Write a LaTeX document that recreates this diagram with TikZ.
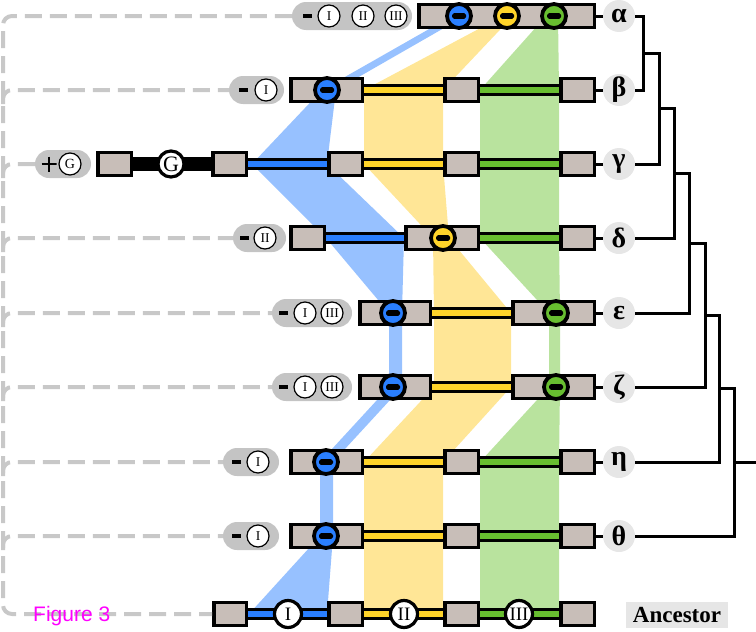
\documentclass[tikz,border=0pt]{standalone}
\usepackage{fontspec}
\setmainfont{Liberation Serif}
\newfontfamily\figfont{Liberation Sans}
\usetikzlibrary{calc}
\definecolor{bluebar}{RGB}{42,127,255}
\definecolor{blueband}{RGB}{151,193,255}
\definecolor{yelbar}{RGB}{255,212,42}
\definecolor{yelband}{RGB}{255,230,150}
\definecolor{grnbar}{RGB}{104,190,48}
\definecolor{grnband}{RGB}{185,227,158}
\definecolor{boxc}{RGB}{200,190,184}
\definecolor{pillc}{RGB}{196,196,196}
\definecolor{dashc}{RGB}{200,200,200}
\definecolor{labc}{RGB}{230,230,230}
\definecolor{figc}{RGB}{255,0,255}
\pgfdeclarelayer{bands}
\pgfdeclarelayer{bars}
\pgfsetlayers{bands,bars,main}
\newcommand{\gbox}[4]{\node[gbox, minimum width={(#3-#2-3.5)*1pt}] (#1) at ({(#2+#3)/2},#4) {};}
\newcommand{\pillat}[4]{\node[pillbox, minimum width={(#3-#2)*1pt}] (#1) at ({(#2+#3)/2},#4) {};}
\newcommand{\cbar}[3]{\begin{pgfonlayer}{bars}\draw[line width=11.5pt] (#1.east) -- (#2.west); \draw[line width=6pt,#3] (#1.east) -- (#2.west);\end{pgfonlayer}}
\begin{document}
\begin{tikzpicture}[x=1pt,y=-1pt,
  gbox/.style={rectangle, draw=black, line width=3.5pt, fill=boxc, minimum height=23pt, inner sep=0pt},
  pillbox/.style={rectangle, fill=pillc, rounded corners=14pt, minimum height=28pt, inner sep=0pt},
  minusbar/.style={rectangle, fill=black, minimum width=9pt, minimum height=3.8pt, inner sep=0pt},
  plussign/.style={rectangle, minimum size=15pt, inner sep=0pt,
    path picture={\draw[line width=2.8pt] (path picture bounding box.north) -- (path picture bounding box.south);
                  \draw[line width=2.8pt] (path picture bounding box.west) -- (path picture bounding box.east);}},
  pnum/.style={circle, draw=black, line width=1.2pt, fill=white, minimum size=22pt, inner sep=0pt, font=\fontsize{13.5}{13.5}\selectfont},
  delc/.style={circle, draw=black, line width=3.8pt, minimum size=24pt, inner sep=0pt,
    path picture={\fill[black, rounded corners=1.8pt] ([xshift=-7pt,yshift=-2.8pt]path picture bounding box.center) rectangle ([xshift=7pt,yshift=2.8pt]path picture bounding box.center);}},
  anccirc/.style={circle, draw=black, line width=3.2pt, fill=white, minimum size=27pt, inner sep=0pt, font=\fontsize{19}{19}\selectfont},
  labnode/.style={circle, fill=labc, minimum size=32pt, inner sep=0pt, font=\fontsize{28}{28}\selectfont\bfseries},
  treeline/.style={draw=black, line width=3pt},
  dashl/.style={draw=dashc, line width=4pt, dash pattern=on 17pt off 8pt}
]
\useasboundingbox (0,0) rectangle (756,632);

% ---------- bands ----------
\begin{pgfonlayer}{bands}
\fill[blueband] (452,16) -- (322,90) -- (252,164) -- (326,238) -- (389,313) -- (389,387) -- (320,462) -- (320,536) -- (249,614) -- (327,614) -- (333,536) -- (333,462) -- (402,387) -- (402,313) -- (404,238) -- (327,164) -- (336,90) -- (465,16) -- cycle;
\fill[yelband] (503,16) -- (364,90) -- (364,164) -- (433,238) -- (434,313) -- (434,387) -- (364,462) -- (364,536) -- (364,614) -- (443,614) -- (443,536) -- (443,462) -- (511,387) -- (511,313) -- (449,238) -- (443,164) -- (443,90) -- (513,16) -- cycle;
\fill[grnband] (546,16) -- (480,90) -- (480,164) -- (480,238) -- (549,313) -- (549,387) -- (480,462) -- (480,536) -- (480,614) -- (559,614) -- (559,536) -- (559,462) -- (560,387) -- (560,313) -- (559,238) -- (559,164) -- (559,90) -- (558,16) -- cycle;
\end{pgfonlayer}

% ---------- alpha ----------
\pillat{ap}{292}{412}{16}
\node[minusbar] (apm) at (307,16) {};
\node[pnum] (apI) at (329,16) {I};
\node[pnum] (apII) at (363,16) {II};
\node[pnum] (apIII) at (396,16) {III};
\gbox{a1}{417}{596}{16}
\node[delc,fill=bluebar] (ad1) at (459,16) {};
\node[delc,fill=yelbar] (ad2) at (507,16) {};
\node[delc,fill=grnbar] (ad3) at (554,16) {};

% ---------- beta ----------
\pillat{bp}{229}{284}{90}
\node[minusbar] (bpm) at (243,90) {};
\node[pnum] (bpI) at (266,90) {I};
\gbox{b1}{289}{364}{90}
\gbox{b2}{443}{480}{90}
\gbox{b3}{559}{596}{90}
\node[delc,fill=bluebar] (bd1) at (327,90) {};
\cbar{b1}{b2}{yelbar}
\cbar{b2}{b3}{grnbar}

% ---------- gamma ----------
\pillat{cp}{35}{91}{164}
\node[plussign] (cpplus) at (49,164) {};
\node[pnum, font=\fontsize{14}{14}\selectfont] (cpG) at (70,164) {G};
\gbox{c0}{96}{133}{164}
\gbox{c1}{211}{248}{164}
\gbox{c2}{327}{364}{164}
\gbox{c3}{443}{480}{164}
\gbox{c4}{559}{596}{164}
\begin{pgfonlayer}{bars}\draw[line width=14pt] (c0.east) -- (c1.west);\end{pgfonlayer}
\node[circle, draw=black, line width=3.2pt, fill=white, minimum size=26pt, inner sep=0pt, font=\fontsize{22}{22}\selectfont] (cG) at (171,164) {G};
\cbar{c1}{c2}{bluebar}
\cbar{c2}{c3}{yelbar}
\cbar{c3}{c4}{grnbar}

% ---------- delta ----------
\pillat{dp}{233}{286}{238}
\node[minusbar] (dpm) at (244,238) {};
\node[pnum] (dpII) at (265,238) {II};
\gbox{d1}{289}{326}{238}
\gbox{d2}{404}{480}{238}
\gbox{d3}{559}{596}{238}
\node[delc,fill=yelbar] (dd2) at (443,238) {};
\cbar{d1}{d2}{bluebar}
\cbar{d2}{d3}{grnbar}

% ---------- epsilon ----------
\pillat{ep}{272}{352}{313}
\node[minusbar] (epm) at (283,313) {};
\node[pnum] (epI) at (305,313) {I};
\node[pnum] (epIII) at (332,313) {III};
\gbox{e1}{358}{432}{313}
\gbox{e2}{511}{596}{313}
\node[delc,fill=bluebar] (ed1) at (393,313) {};
\node[delc,fill=grnbar] (ed3) at (556,313) {};
\cbar{e1}{e2}{yelbar}

% ---------- zeta ----------
\pillat{fp}{272}{352}{387}
\node[minusbar] (fpm) at (283,387) {};
\node[pnum] (fpI) at (305,387) {I};
\node[pnum] (fpIII) at (332,387) {III};
\gbox{f1}{358}{432}{387}
\gbox{f2}{511}{596}{387}
\node[delc,fill=bluebar] (fd1) at (393,387) {};
\node[delc,fill=grnbar] (fd3) at (556,387) {};
\cbar{f1}{f2}{yelbar}

% ---------- eta ----------
\pillat{gp}{223}{279}{462}
\node[minusbar] (gpm) at (236,462) {};
\node[pnum] (gpI) at (258,462) {I};
\gbox{g1}{289}{364}{462}
\gbox{g2}{443}{480}{462}
\gbox{g3}{559}{596}{462}
\node[delc,fill=bluebar] (gd1) at (326,462) {};
\cbar{g1}{g2}{yelbar}
\cbar{g2}{g3}{grnbar}

% ---------- theta ----------
\pillat{hp}{223}{279}{536}
\node[minusbar] (hpm) at (236,536) {};
\node[pnum] (hpI) at (258,536) {I};
\gbox{h1}{289}{364}{536}
\gbox{h2}{443}{480}{536}
\gbox{h3}{559}{596}{536}
\node[delc,fill=bluebar] (hd1) at (326,536) {};
\cbar{h1}{h2}{yelbar}
\cbar{h2}{h3}{grnbar}

% ---------- ancestor ----------
\gbox{k0}{212}{248}{614}
\gbox{k1}{327}{364}{614}
\gbox{k2}{443}{480}{614}
\gbox{k3}{559}{596}{614}
\cbar{k0}{k1}{bluebar}
\cbar{k1}{k2}{yelbar}
\cbar{k2}{k3}{grnbar}
\node[anccirc] (kI) at (288,614) {I};
\node[anccirc] (kII) at (404,614) {II};
\node[anccirc] (kIII) at (519,614) {III};
\node[fill=labc, minimum width=102pt, minimum height=26pt, inner sep=0pt, font=\fontsize{23}{23}\selectfont\bfseries] (anclab) at (677,615) {Ancestor};

% ---------- right labels ----------
\node[labnode] (la) at (619,16) {α};
\node[labnode] (lb) at (619,90) {β};
\node[labnode] (lc) at (619,164) {γ};
\node[labnode] (ld) at (619,238) {δ};
\node[labnode] (le) at (619,313) {ε};
\node[labnode] (lf) at (619,387) {ζ};
\node[labnode] (lg) at (619,462) {η};
\node[labnode] (lh) at (619,536) {θ};
\draw[treeline] (a1.east) -- (la.west);
\draw[treeline] (b3.east) -- (lb.west);
\draw[treeline] (c4.east) -- (lc.west);
\draw[treeline] (d3.east) -- (ld.west);
\draw[treeline] (e2.east) -- (le.west);
\draw[treeline] (f2.east) -- (lf.west);
\draw[treeline] (g3.east) -- (lg.west);
\draw[treeline] (h3.east) -- (lh.west);

% ---------- tree ----------
\coordinate (j1) at (643,53);
\coordinate (j2) at (659,108.5);
\coordinate (j3) at (674,173);
\coordinate (j4) at (689,243);
\coordinate (j5) at (705,315);
\coordinate (j6) at (719,388.5);
\coordinate (j7) at (734,462);
\coordinate (root) at (756,462);
\draw[treeline] (la.east) -| (j1) |- (lb.east);
\draw[treeline] (j1) -| (j2) |- (lc.east);
\draw[treeline] (j2) -| (j3) |- (ld.east);
\draw[treeline] (j3) -| (j4) |- (le.east);
\draw[treeline] (j4) -| (j5) |- (lf.east);
\draw[treeline] (j5) -| (j6) |- (lg.east);
\draw[treeline] (j6) -| (j7) |- (lh.east);
\draw[treeline] (j7) -- (root);

% ---------- dashed lineage lines ----------
\coordinate (tt) at (3,16);
\coordinate (tb) at (3,614);
\draw[dashl, rounded corners=9pt] (ap.west) -- (tt) -- (tb) -- (k0.west);
\coordinate (bs) at (3,104);
\coordinate (cs) at (3,178);
\coordinate (ds) at (3,252);
\coordinate (es) at (3,327);
\coordinate (fs) at (3,401);
\coordinate (gs) at (3,476);
\coordinate (hs) at (3,550);
\draw[dashl, rounded corners=9pt] (bs) |- (bp.west);
\draw[dashl, rounded corners=9pt] (cs) |- (cp.west);
\draw[dashl, rounded corners=9pt] (ds) |- (dp.west);
\draw[dashl, rounded corners=9pt] (es) |- (ep.west);
\draw[dashl, rounded corners=9pt] (fs) |- (fp.west);
\draw[dashl, rounded corners=9pt] (gs) |- (gp.west);
\draw[dashl, rounded corners=9pt] (hs) |- (hp.west);

\node[anchor=base west, inner sep=0pt, text=figc, font=\figfont\fontsize{21}{21}\selectfont] (fig) at (33,621) {Figure 3};
\end{tikzpicture}
\end{document}
